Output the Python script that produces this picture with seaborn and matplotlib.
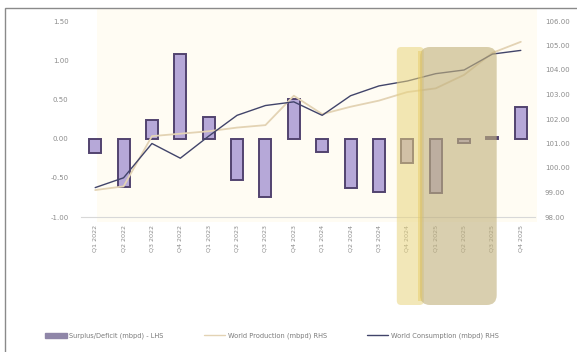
import numpy as np
import matplotlib
matplotlib.use("Agg")
import matplotlib.pyplot as plt
from matplotlib.patches import Rectangle, FancyBboxPatch, Patch
from matplotlib.lines import Line2D
from matplotlib.ticker import FormatStrFormatter, MultipleLocator
import seaborn as sns

# Quarterly oil market balance
quarters = ["Q1 2022", "Q2 2022", "Q3 2022", "Q4 2022",
            "Q1 2023", "Q2 2023", "Q3 2023", "Q4 2023",
            "Q1 2024", "Q2 2024", "Q3 2024", "Q4 2024",
            "Q1 2025", "Q2 2025", "Q3 2025", "Q4 2025"]
surplus_deficit = [-0.19, -0.62, 0.24, 1.08, 0.28, -0.53, -0.74, 0.51,
                   -0.17, -0.63, -0.68, -0.31, -0.69, -0.06, 0.02, 0.40]
world_production = [99.10, 99.25, 101.30, 101.40, 101.50, 101.65, 101.75, 102.95,
                    102.20, 102.50, 102.75, 103.10, 103.25, 103.80, 104.70, 105.15]
world_consumption = [99.20, 99.60, 101.00, 100.40, 101.30, 102.15, 102.55, 102.70,
                     102.15, 102.95, 103.35, 103.55, 103.85, 104.00, 104.65, 104.80]

legend_labels = ["Surplus/Deficit (mbpd) - LHS",
                 "World Production (mbpd) RHS",
                 "World Consumption (mbpd) RHS"]

W, H = 577, 352
sns.set_theme(style="white")
plt.rcParams["font.family"] = ["DejaVu Sans"]

fig = plt.figure(figsize=(W / 100, H / 100), dpi=100)
fig.patch.set_facecolor("white")

# cream panel behind the plot and outer frame
fig.add_artist(Rectangle((97 / W, 1 - 222 / H), (537 - 97) / W, (222 - 9) / H,
                         transform=fig.transFigure, facecolor="#fffcf3",
                         edgecolor="none", zorder=0))
fig.add_artist(Rectangle((4.5 / W, -0.05), 1.2, 1.05 - 7.5 / H,
                         transform=fig.transFigure, facecolor="none",
                         edgecolor="#8a8a8a", linewidth=1.0, zorder=10))

ax = fig.add_axes([81 / W, 1 - 217 / H, (535 - 81) / W, (217 - 21) / H])
ax.set_facecolor("none")

bar_fill = "#b6a8d8"
bar_edge = "#52436f"
sns.barplot(x=quarters, y=surplus_deficit, ax=ax, color=bar_fill, width=0.42,
            edgecolor=bar_edge, linewidth=1.4, saturation=1)
ax.set_xlim(-0.5, len(quarters) - 0.5)
ax.set_ylim(-1.0, 1.5)
ax.yaxis.set_major_locator(MultipleLocator(0.5))
ax.yaxis.set_major_formatter(FormatStrFormatter("%.2f"))

ax2 = ax.twinx()
pos = np.arange(len(quarters))
sns.lineplot(x=pos, y=world_production, ax=ax2, color="#e3d3b4", linewidth=1.3)
sns.lineplot(x=pos, y=world_consumption, ax=ax2, color="#41446a", linewidth=1.0)
ax2.set_ylim(98, 106)
ax2.yaxis.set_major_locator(MultipleLocator(1))
ax2.yaxis.set_major_formatter(FormatStrFormatter("%.2f"))
ax2.set_xlim(-0.5, len(quarters) - 0.5)

for a in (ax, ax2):
    for s in a.spines.values():
        s.set_visible(False)
    a.tick_params(length=0, labelsize=5, colors="#8c8c8c")
    a.set_xlabel("")
    a.set_ylabel("")
ax.spines["bottom"].set_visible(True)
ax.spines["bottom"].set_color("#d8d8d8")
ax.spines["bottom"].set_linewidth(0.8)
ax.tick_params(axis="y", pad=9)
ax2.tick_params(axis="y", pad=7)
ax.tick_params(axis="x", pad=6)
for lbl in ax.get_xticklabels():
    lbl.set_rotation(90)
    lbl.set_fontsize(4.6)

# highlighted forecast window (spills below the axis)
trans = ax2.get_xaxis_transform()
top_frac = (217 - 47) / 196
bot_frac = (217 - 305) / 196
aspect = (454 / 16) / 196
ax2.add_patch(FancyBboxPatch((10.63, bot_frac), 0.95, top_frac - bot_frac,
                             boxstyle="round,pad=0,rounding_size=0.15",
                             mutation_aspect=aspect, transform=trans,
                             facecolor="#e8d47e", alpha=0.55, edgecolor="none",
                             clip_on=False, zorder=5))
ax2.add_patch(FancyBboxPatch((11.45, bot_frac), 2.7, top_frac - bot_frac,
                             boxstyle="round,pad=0,rounding_size=0.35",
                             mutation_aspect=aspect, transform=trans,
                             facecolor="#c2b27e", alpha=0.62, edgecolor="none",
                             clip_on=False, zorder=5))
# bright seam along the left edge of the darker window
ax2.add_patch(Rectangle((11.38, bot_frac + 0.02), 0.14, top_frac - bot_frac - 0.04,
                        transform=trans, facecolor="#e6c95e", alpha=0.45,
                        edgecolor="none", clip_on=False, zorder=5))

handles = [Patch(facecolor="#8f86a8", edgecolor="#8f86a8"),
           Line2D([], [], color="#e3d3b4", linewidth=1.0),
           Line2D([], [], color="#41446a", linewidth=1.0)]
leg = fig.legend(handles, legend_labels, loc="center", ncol=3,
                 bbox_to_anchor=(272 / W, 1 - 336 / H), frameon=False,
                 fontsize=4.8, handlelength=3.2, handleheight=0.9,
                 columnspacing=6.0, handletextpad=0.4)
for t in leg.get_texts():
    t.set_color("#7a7a7a")

fig.savefig("out.png", dpi=100, facecolor="white")
